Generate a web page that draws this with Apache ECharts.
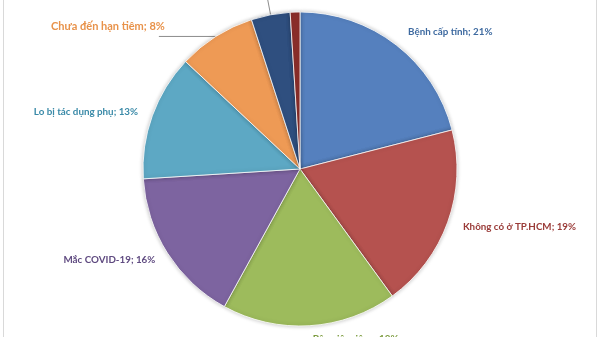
<!DOCTYPE html>
<html><head><meta charset="utf-8">
<script src="https://cdn.jsdelivr.net/npm/echarts@6/dist/echarts.min.js"></script>
<style>html,body{margin:0;padding:0;background:#fff}#c{width:600px;height:337px}</style>
</head><body><div id="c"></div>
<script>
const categories = ['Bệnh cấp tính','Không có ở TP.HCM','Bận việc riêng','Mắc COVID-19','Lo bị tác dụng phụ','Chưa đến hạn tiêm','Đang mang thai','Khác'];
const values = [21,19,18,16,13,8,4,1];
const sliceColors = ['#5580BE','#B5524F','#9DBB5C','#7D64A0','#5DA8C4','#EE9A55','#2F4F7F','#8B2E2A'];
const labelColors = ['#3E6AA0','#9A3B38','#7A9A3C','#5F4A80','#3A8AA8','#E8924A','#2F4F7F','#8B2E2A'];
const labelLen = [16,14,13,12,13,0,26,26];
const labelLen2 = [0,0,0,0,0,57,6,8];
const showLine = [false,false,false,false,false,true,true,true];

const chart = echarts.init(document.getElementById('c'));
chart.setOption({
  animation:false,
  graphic:[
    {type:'line',shape:{x1:3.5,y1:0,x2:3.5,y2:337},style:{stroke:'#D9D9D9',lineWidth:1}},
    {type:'line',shape:{x1:596.5,y1:0,x2:596.5,y2:337},style:{stroke:'#D9D9D9',lineWidth:1}}
  ],
  series:[{
    type:'pie',
    center:[300,169],
    radius:157,
    startAngle:90,
    clockwise:true,
    avoidLabelOverlap:false,
    itemStyle:{borderColor:'#fff',borderWidth:0.8,shadowBlur:4,shadowColor:'rgba(0,0,0,0.25)'},
    label:{show:true,position:'outside',fontFamily:'Lato',fontWeight:'bold',fontSize:9.8,
      formatter:p=>p.dataIndex===5 ? p.name+'; '+p.value+'%\n{s|}' : p.name+'; '+p.value+'%',
      rich:{s:{lineHeight:20,fontSize:1}}},
    data:categories.map((n,i)=>({
      name:n,value:values[i],
      itemStyle:{color:sliceColors[i]},
      label:Object.assign({color:labelColors[i],distanceToLabelLine:i===5?-6:2},
        i===2?{align:'center'}:{}, i===5?{fontSize:11,lineHeight:13}:{}),
      labelLine:{show:showLine[i],length:labelLen[i],length2:labelLen2[i],smooth:false,
        lineStyle:{color:'#8C8C8C',width:1}}
    }))
  }]
});
</script></body></html>
